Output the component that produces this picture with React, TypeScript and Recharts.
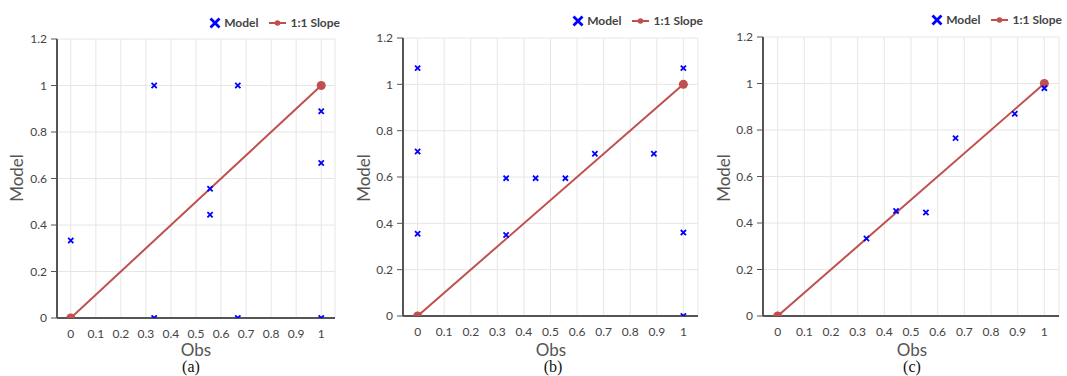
import React from 'react';
import { ScatterChart, Scatter, XAxis, YAxis, CartesianGrid, Legend } from 'recharts';

const xTicks = [0, 0.1, 0.2, 0.3, 0.4, 0.5, 0.6, 0.7, 0.8, 0.9, 1];
const yTicks = [0, 0.2, 0.4, 0.6, 0.8, 1, 1.2];

// 1:1 reference line, same in all panels
const slopeLine = [
  { obs: 0, model: 0 },
  { obs: 1, model: 1 },
];

const modelA = [
  { obs: 0, model: 0.333 },
  { obs: 0.333, model: 1 },
  { obs: 0.333, model: 0 },
  { obs: 0.556, model: 0.556 },
  { obs: 0.556, model: 0.444 },
  { obs: 0.667, model: 1 },
  { obs: 0.667, model: 0 },
  { obs: 1, model: 0.889 },
  { obs: 1, model: 0.667 },
  { obs: 1, model: 0 },
];

const modelB = [
  { obs: 0, model: 1.07 },
  { obs: 0, model: 0.71 },
  { obs: 0, model: 0.355 },
  { obs: 0.333, model: 0.595 },
  { obs: 0.333, model: 0.35 },
  { obs: 0.444, model: 0.595 },
  { obs: 0.556, model: 0.595 },
  { obs: 0.667, model: 0.7 },
  { obs: 0.889, model: 0.7 },
  { obs: 1, model: 1.07 },
  { obs: 1, model: 0.36 },
  { obs: 1, model: 0 },
];

const modelC = [
  { obs: 0.333, model: 0.333 },
  { obs: 0.444, model: 0.452 },
  { obs: 0.556, model: 0.445 },
  { obs: 0.667, model: 0.765 },
  { obs: 0.889, model: 0.87 },
  { obs: 1, model: 0.98 },
];

const BLUE = '#0000ff';
const RED = '#c0504d';
const FONT = 'Lato, "Open Sans", sans-serif';

const panels = [
  { key: 'a', data: modelA, left: 0, width: 350, top: 39, bottom: 28, right: 15, legendTop: 15, legendRight: 10, yLabelX: 16, obsX: 196, capX: 191 },
  { key: 'b', data: modelB, left: 346, width: 364, top: 38, bottom: 30, right: 12, legendTop: 13, legendRight: 7, yLabelX: 363, obsX: 551, capX: 553 },
  { key: 'c', data: modelC, left: 706, width: 361, top: 37, bottom: 30, right: 8, legendTop: 12, legendRight: 5, yLabelX: 723, obsX: 912, capX: 912 },
];

const XMark = (props: any) => {
  const { cx, cy } = props;
  const s = 2.6;
  return (
    <path
      d={`M${cx - s},${cy - s}L${cx + s},${cy + s}M${cx + s},${cy - s}L${cx - s},${cy + s}`}
      stroke={BLUE}
      strokeWidth={1.8}
      fill="none"
    />
  );
};

const SlopeDot = (props: any) => <circle cx={props.cx} cy={props.cy} r={4.5} fill={RED} />;

const LegendBox = () => (
  <div style={{ display: 'flex', alignItems: 'center', fontFamily: FONT, fontSize: 12, fontWeight: 700, color: '#444', whiteSpace: 'nowrap' }}>
    <svg width={12} height={12}>
      <path d="M1.5,1.5L10.5,10.5M10.5,1.5L1.5,10.5" stroke={BLUE} strokeWidth={2.8} />
    </svg>
    <span style={{ marginLeft: 3, marginRight: 11 }}>Model</span>
    <svg width={17} height={10}>
      <line x1={0} y1={5} x2={17} y2={5} stroke={RED} strokeWidth={2} />
      <circle cx={8.5} cy={5} r={2.8} fill={RED} />
    </svg>
    <span style={{ marginLeft: 4 }}>1:1 Slope</span>
  </div>
);

const Panel = ({ p }: { p: (typeof panels)[number] }) => (
  <div style={{ position: 'absolute', left: p.left, top: 0 }}>
    <ScatterChart
      width={p.width}
      height={376}
      margin={{ top: p.top, right: p.right, left: 0, bottom: p.bottom }}
      style={{ fontFamily: FONT }}
    >
      <CartesianGrid stroke="#e6e6e6" strokeWidth={1} />
      <XAxis
        type="number"
        dataKey="obs"
        domain={[-0.055, 1.055]}
        ticks={xTicks}
        interval={0}
        allowDataOverflow
        height={30}
        tickLine={false}
        tickMargin={5}
        axisLine={{ stroke: '#555', strokeWidth: 2 }}
        tick={{ fill: '#444', fontSize: 12, fontFamily: FONT }}
      />
      <YAxis
        type="number"
        dataKey="model"
        domain={[0, 1.2]}
        ticks={yTicks}
        interval={0}
        allowDataOverflow
        width={57}
        tickSize={6}
        tickMargin={4}
        tickLine={{ stroke: '#555' }}
        axisLine={{ stroke: '#555', strokeWidth: 2 }}
        tick={{ fill: '#444', fontSize: 12, fontFamily: FONT }}
      />
      <Legend
        verticalAlign="middle"
        align="center"
        content={<LegendBox />}
        wrapperStyle={{ top: p.legendTop, right: p.legendRight, left: 'auto', width: 'auto' }}
      />
      <Scatter
        name="1:1 Slope"
        data={slopeLine}
        line={{ stroke: RED, strokeWidth: 2 }}
        shape={<SlopeDot />}
        fill={RED}
        isAnimationActive={false}
      />
      <Scatter name="Model" data={p.data} shape={<XMark />} fill={BLUE} isAnimationActive={false} />
    </ScatterChart>
  </div>
);

const textBase: React.CSSProperties = { position: 'absolute', whiteSpace: 'nowrap', transform: 'translate(-50%, -50%)' };

export default function App() {
  return (
    <div style={{ position: 'absolute', left: 0, top: 0, width: 1067, height: 376, background: '#fff', overflow: 'hidden' }}>
      {panels.map((p) => (
        <Panel key={p.key} p={p} />
      ))}
      {panels.map((p) => (
        <React.Fragment key={p.key + '-t'}>
          <div style={{ ...textBase, left: p.yLabelX, top: 178, transform: 'translate(-50%, -50%) rotate(-90deg)', fontFamily: FONT, fontSize: 17, color: '#555' }}>
            Model
          </div>
          <div style={{ ...textBase, left: p.obsX, top: 349, fontFamily: FONT, fontSize: 17, color: '#555' }}>Obs</div>
          <div style={{ ...textBase, left: p.capX, top: 367, fontFamily: '"Liberation Serif", serif', fontSize: 16, color: '#111' }}>
            ({p.key})
          </div>
        </React.Fragment>
      ))}
    </div>
  );
}
